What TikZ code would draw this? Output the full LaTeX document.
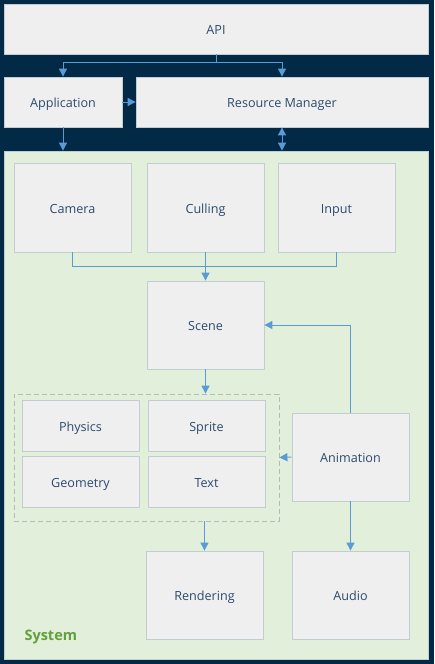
\documentclass[tikz,border=0pt]{standalone}
\usepackage{fontspec}
\setmainfont{Open Sans}
\usepackage{tikz}
\usetikzlibrary{arrows.meta,positioning,calc}
\definecolor{engnavy}{HTML}{022A46}
\definecolor{engbox}{HTML}{EFEFEF}
\definecolor{engedge}{HTML}{C3CCD2}
\definecolor{engtext}{HTML}{2C4A6E}
\definecolor{engarrow}{HTML}{5B9BD5}
\definecolor{enggreen}{HTML}{E2EFDA}
\definecolor{englabel}{HTML}{62A03E}
\definecolor{enggroup}{HTML}{B3BDB3}

\begin{document}
\begin{tikzpicture}[
  x=1pt, y=-1pt,
  font=\fontsize{12.6}{14}\selectfont,
  block/.style={draw=engedge, fill=engbox, line width=0.8pt, inner sep=0pt,
                text=engtext, align=center, text height=11pt, text depth=0pt},
  lf/.style={-{Triangle[length=8pt,width=8pt]}, engarrow, line width=0.9pt},
  lfb/.style={{Triangle[length=8pt,width=8pt]}-{Triangle[length=8pt,width=8pt]}, engarrow, line width=0.9pt},
  ln/.style={engarrow, line width=0.9pt},
]
\fill[engnavy] (0,0) rectangle (434,664);
\useasboundingbox (0,0) rectangle (434,664);
% top layer
\node[block, minimum width=424pt, minimum height=50pt] (api) at (216,29) {API};
\node[block, minimum width=118pt, minimum height=50pt] (app) at (63,102) {Application};
\node[block, minimum width=292pt, minimum height=50pt] (resmgr) at (282,102) {Resource Manager};
% system area
\node[draw=engedge, fill=enggreen, line width=0.8pt, minimum width=424pt, minimum height=508pt,
      inner sep=0pt] (system) at (216,405) {};
\node[anchor=south west, text=englabel, font=\fontsize{14.5}{16}\selectfont\bfseries] (syslabel) at (21,648) {System};
\node[block, minimum width=117pt, minimum height=89pt] (camera) at (72.5,207.5) {Camera};
\node[block, minimum width=117pt, minimum height=89pt] (culling) at (205.5,207.5) {Culling};
\node[block, minimum width=117pt, minimum height=89pt] (input) at (336.5,207.5) {Input};
\node[block, minimum width=117pt, minimum height=88pt] (scene) at (205.5,325) {Scene};
\node[draw=enggroup, dashed, dash pattern=on 5pt off 3pt, line width=0.8pt, minimum width=265pt,
      minimum height=127pt, inner sep=0pt] (grp) at (146.5,457.5) {};
\node[block, minimum width=117pt, minimum height=51pt] (physics) at (80.5,426) {Physics};
\node[block, minimum width=117pt, minimum height=51pt] (sprite) at (206.5,426) {Sprite};
\node[block, minimum width=117pt, minimum height=51pt] (geometry) at (80.5,482) {Geometry};
\node[block, minimum width=117pt, minimum height=51pt] (text) at (206.5,482) {Text};
\node[block, minimum width=117pt, minimum height=88pt] (animation) at (350.5,457) {Animation};
\node[block, minimum width=117pt, minimum height=88pt] (rendering) at (204.5,595) {Rendering};
\node[block, minimum width=117pt, minimum height=88pt] (audio) at (350.5,595) {Audio};
% connectors
\draw[lf] (api.south) -- ++(0,8) -| (app.north);
\draw[lf] (api.south) -- ++(0,8) -| (resmgr.north);
\draw[lf] (app.east) -- (resmgr.west);
\draw[lf] (app.south) -- (app.south |- system.north);
\draw[lfb] (resmgr.south) -- (resmgr.south |- system.north);
\draw[ln] (camera.south) -- ++(0,14) -| (input.south);
\draw[lf] (culling.south) -- (scene.north);
\draw[lf] (scene.south) -- (scene.south |- grp.north);
\draw[lf] (animation.north) |- (scene.east);
\draw[lf] (animation.west) -- (grp.east);
\draw[lf] (animation.south) -- (audio.north);
\draw[lf] (grp.south -| rendering.north) -- (rendering.north);
\end{tikzpicture}
\end{document}
